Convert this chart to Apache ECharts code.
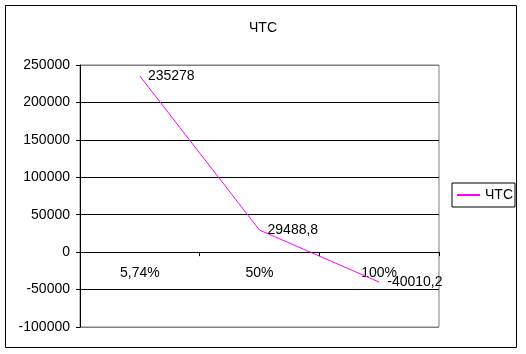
<!DOCTYPE html>
<html>
<head>
<meta charset="utf-8">
<script src="https://cdn.jsdelivr.net/npm/echarts@6/dist/echarts.min.js"></script>
<style>
  html, body { margin: 0; padding: 0; background: #fff; }
  #npv_chart { width: 526px; height: 354px; }
</style>
</head>
<body>
<div id="npv_chart"></div>
<script>
// данные
var categories = ['5,74%', '50%', '100%'];
var npvValues = [235278, 29488.8, -40010.2];
var seriesName = 'ЧТС';
var yMin = -100000, yMax = 250000, yStep = 50000;

var chart = echarts.init(document.getElementById('npv_chart'));

var font = 'Liberation Sans, Arial, sans-serif';
var gridTop = 65, gridBottom = 27;
var gridH = 354 - gridTop - gridBottom;
// смещение оси категорий к нулю
var zeroOffset = -gridH * (0 - yMin) / (yMax - yMin);

chart.setOption({
    animation: false,
    textStyle: { fontFamily: font },
    title: {
        text: seriesName,
        left: 'center',
        top: 16,
        textStyle: { fontSize: 14, fontWeight: 'normal', color: '#000', fontFamily: font }
    },
    legend: {
        data: [seriesName],
        left: 452,
        top: 183,
        orient: 'vertical',
        borderColor: '#000',
        borderWidth: 1,
        padding: [5, 2, 5, 4],
        itemWidth: 23,
        itemHeight: 10,
        itemGap: 4,
        itemStyle: { opacity: 0 },
        textStyle: { fontSize: 14, color: '#000', fontFamily: font }
    },
    grid: {
        left: 80,
        right: 87,
        top: gridTop,
        bottom: gridBottom,
        show: true,
        borderColor: '#808080',
        borderWidth: 1
    },
    xAxis: {
        type: 'category',
        data: categories,
        boundaryGap: true,
        offset: zeroOffset,
        axisLine: { onZero: false, lineStyle: { color: '#000', width: 1 } },
        axisTick: { show: true, length: 4, lineStyle: { color: '#000' } },
        axisLabel: { margin: 14, fontSize: 14, color: '#000', fontFamily: font },
        splitLine: { show: false }
    },
    yAxis: {
        type: 'value',
        min: yMin,
        max: yMax,
        interval: yStep,
        axisLine: { show: true, lineStyle: { color: '#000', width: 1 } },
        axisTick: { show: true, length: 4, lineStyle: { color: '#000' } },
        axisLabel: {
            margin: 10, fontSize: 14, color: '#000', fontFamily: font,
            formatter: function (v) { return String(v); }
        },
        splitLine: {
            show: true,
            lineStyle: {
                color: ['#808080', '#000', '#000', '#000', '#000', '#000', '#000', '#808080'],
                width: 1
            }
        }
    },
    series: [{
        name: seriesName,
        type: 'line',
        data: npvValues,
        symbol: 'circle',
        symbolSize: 0.1,
        showSymbol: true,
        lineStyle: { color: '#ff00ff', width: 1 },
        itemStyle: { color: '#ff00ff' },
        label: {
            show: true,
            position: 'right',
            distance: 8,
            fontSize: 14,
            color: '#000',
            fontFamily: font,
            formatter: function (p) { return String(p.value).replace('.', ','); }
        }
    }],
    graphic: [{
        type: 'rect',
        shape: { x: 5.5, y: 5.5, width: 511, height: 342 },
        style: { fill: 'none', stroke: '#000', lineWidth: 1 },
        silent: true
    }]
});
</script>
</body>
</html>
